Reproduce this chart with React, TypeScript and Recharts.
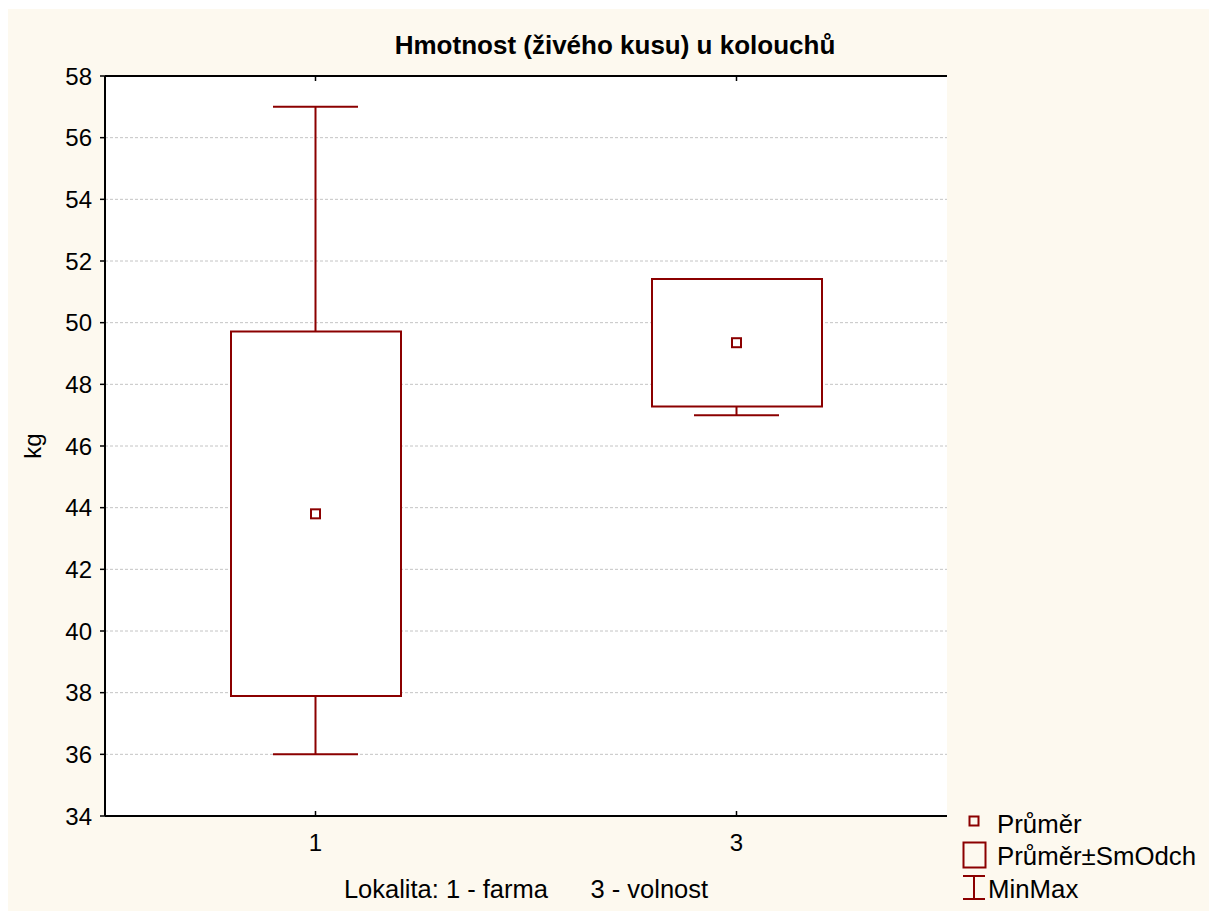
import React from "react";
import {
  ComposedChart,
  Bar,
  Line,
  XAxis,
  YAxis,
  CartesianGrid,
} from "recharts";

// Hmotnost koloušků podle lokality: průměr, průměr ± směrodatná odchylka, min–max
const categories = ["1", "3"];
const means = [43.8, 49.35];
const sds = [5.91, 2.07];
const mins = [36, 47];
const maxs = [57, 51];
const yTicks = [34, 36, 38, 40, 42, 44, 46, 48, 50, 52, 54, 56, 58];
const legendLabels = ["Průměr", "Průměr±SmOdch", "MinMax"];

const title = "Hmotnost (živého kusu) u kolouchů";
const xLabel = "Lokalita: 1 - farma      3 - volnost";
const yLabel = "kg";

const rows = categories.map((cat, i) => ({
  cat,
  mean: means[i],
  box: [means[i] - sds[i], means[i] + sds[i]],
  range: [mins[i], maxs[i]],
}));

const RED = "#8b0000";
const FONT = "'Liberation Sans', Arial, sans-serif";
const BG = "#fdf9ef";

const W = 1201;
const H = 902;

const WhiskerShape = (props: any) => {
  const { x, y, width, height } = props;
  const cx = x + width / 2;
  return (
    <g stroke={RED} strokeWidth={2} fill="none">
      <line x1={cx} y1={y} x2={cx} y2={y + height} />
      <line x1={x} y1={y} x2={x + width} y2={y} />
      <line x1={x} y1={y + height} x2={x + width} y2={y + height} />
    </g>
  );
};

const MeanDot = (props: any) => {
  const { cx, cy } = props;
  if (cx == null || cy == null) return null;
  return (
    <rect
      x={cx - 4.5}
      y={cy - 4.5}
      width={9}
      height={9}
      fill="#fff"
      stroke={RED}
      strokeWidth={2}
    />
  );
};

const BottomTick = (props: any) => {
  const { x, y, payload } = props;
  return (
    <g>
      <line x1={x} y1={y - 5} x2={x} y2={y} stroke="#000" strokeWidth={1.5} />
      <text
        x={x}
        y={y + 35}
        textAnchor="middle"
        fontFamily={FONT}
        fontSize={24}
        fill="#000"
      >
        {payload.value}
      </text>
    </g>
  );
};

const TopTick = (props: any) => {
  const { x, y } = props;
  return <line x1={x} y1={y} x2={x} y2={y + 5} stroke="#000" strokeWidth={1.5} />;
};

const XAxisLabel = (props: any) => {
  const { viewBox } = props;
  const cx = viewBox.x + viewBox.width / 2;
  return (
    <text
      x={cx}
      y={viewBox.y + 82}
      textAnchor="middle"
      fontFamily={FONT}
      fontSize={25.5}
      fill="#000"
      style={{ whiteSpace: "pre" }}
    >
      {xLabel}
    </text>
  );
};

const YAxisLabel = (props: any) => {
  const { viewBox } = props;
  const cx = viewBox.x - 2.5;
  const cy = viewBox.y + viewBox.height / 2;
  return (
    <text
      x={cx}
      y={cy}
      transform={`rotate(-90 ${cx} ${cy})`}
      textAnchor="middle"
      dominantBaseline="central"
      fontFamily={FONT}
      fontSize={24}
      fill="#000"
    >
      {yLabel}
    </text>
  );
};

const LegendIcon = ({ index }: { index: number }) => {
  if (index === 0) {
    return <rect x={961.5} y={807.5} width={9} height={9} fill="none" stroke={RED} strokeWidth={2} />;
  }
  if (index === 1) {
    return <rect x={955.5} y={833.5} width={22} height={25} fill="none" stroke={RED} strokeWidth={2} />;
  }
  return (
    <g stroke={RED} strokeWidth={2}>
      <line x1={955} y1={867} x2={977} y2={867} />
      <line x1={966} y1={867} x2={966} y2={890} />
      <line x1={955} y1={890} x2={977} y2={890} />
    </g>
  );
};

const legendTextPos = [
  { x: 989, y: 824 },
  { x: 989, y: 856 },
  { x: 980, y: 889 },
];

export default function App() {
  return (
    <div
      style={{
        position: "absolute",
        left: 8,
        top: 9,
        width: W,
        height: H,
        background: BG,
        overflow: "hidden",
      }}
    >
      <ComposedChart
        width={W}
        height={H}
        data={rows}
        margin={{ top: 66, right: 262, bottom: 50, left: 27 }}
      >
        <CartesianGrid
          vertical={false}
          horizontal
          fill="#fff"
          stroke="#c4c4c4"
          strokeDasharray="3 2"
          syncWithTicks
        />
        <XAxis
          dataKey="cat"
          type="category"
          height={45}
          tickSize={0}
          tickMargin={0}
          tickLine={false}
          axisLine={{ stroke: "#000", strokeWidth: 2 }}
          tick={<BottomTick />}
          label={<XAxisLabel />}
        />
        <XAxis
          xAxisId="top"
          dataKey="cat"
          type="category"
          orientation="top"
          height={1}
          tickSize={0}
          tickMargin={0}
          tickLine={false}
          axisLine={{ stroke: "#000", strokeWidth: 2 }}
          tick={<TopTick />}
        />
        <XAxis xAxisId="box" dataKey="cat" type="category" hide />
        <YAxis
          type="number"
          domain={[34, 58]}
          ticks={yTicks}
          interval={0}
          width={70}
          tickSize={5}
          tickMargin={8}
          tickLine={{ stroke: "#000", strokeWidth: 1.5 }}
          axisLine={{ stroke: "#000", strokeWidth: 2 }}
          tick={{ fill: "#000", fontSize: 24, fontFamily: FONT }}
          label={<YAxisLabel />}
        />
        <YAxis
          yAxisId="right"
          orientation="right"
          type="number"
          domain={[34, 58]}
          width={0}
          tick={false}
          tickLine={false}
          axisLine={{ stroke: "#000", strokeWidth: 2 }}
        />
        <Bar
          dataKey="range"
          barSize={85}
          shape={<WhiskerShape />}
          isAnimationActive={false}
        />
        <Bar
          xAxisId="box"
          dataKey="box"
          barSize={170}
          fill="#fff"
          stroke={RED}
          strokeWidth={2}
          isAnimationActive={false}
        />
        <Line
          dataKey="mean"
          stroke="none"
          dot={<MeanDot />}
          activeDot={false}
          isAnimationActive={false}
        />
      </ComposedChart>
      <svg
        width={W}
        height={H}
        style={{ position: "absolute", left: 0, top: 0, pointerEvents: "none" }}
      >
        <text
          x={607}
          y={45}
          textAnchor="middle"
          fontFamily={FONT}
          fontWeight="bold"
          fontSize={26}
          fill="#000"
        >
          {title}
        </text>
        {legendLabels.map((label, i) => (
          <g key={label}>
            <LegendIcon index={i} />
            <text
              x={legendTextPos[i].x}
              y={legendTextPos[i].y}
              fontFamily={FONT}
              fontSize={25.8}
              fill="#000"
            >
              {label}
            </text>
          </g>
        ))}
      </svg>
    </div>
  );
}
